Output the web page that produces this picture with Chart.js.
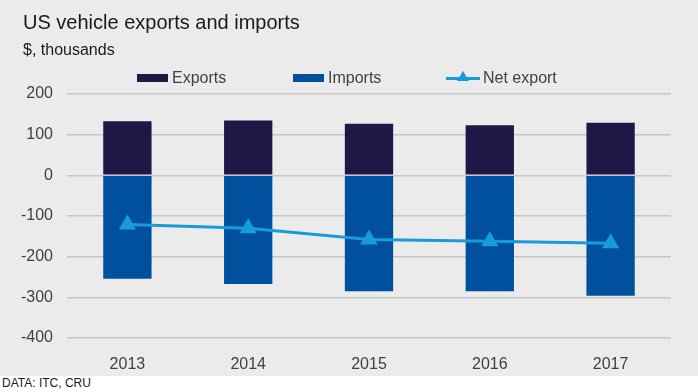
<!DOCTYPE html>
<html>
<head>
<meta charset="utf-8">
<script src="https://cdn.jsdelivr.net/npm/chart.js@4"></script>
<style>
  body { margin: 0; background: #fff; font-family: "Liberation Sans", Arial, sans-serif; }
  #wrap { position: relative; width: 698px; height: 376px; background: #ebebeb; }
  #chart { position: absolute; left: 0; top: 0; }
  .txt { position: absolute; white-space: nowrap; }
  #title { left: 23px; top: 11px; font-size: 20px; color: #1a1a1a; }
  #sub { left: 23px; top: 41px; font-size: 16px; color: #1a1a1a; }
  .leg { position: absolute; top: 69px; font-size: 16px; color: #404040; line-height: 18px; }
  .box { position: absolute; width: 31px; height: 8px; top: 5px; }
  #src { position: absolute; left: 2px; top: 376px; font-size: 12px; color: #1a1a1a; }
</style>
</head>
<body>
<div id="wrap">
  <canvas id="chart" width="698" height="376"></canvas>
  <div id="title" class="txt">US vehicle exports and imports</div>
  <div id="sub" class="txt">$, thousands</div>
  <div class="leg" style="left:137px"><span class="box" style="left:0;background:#201747"></span><span style="margin-left:35px">Exports</span></div>
  <div class="leg" style="left:293px"><span class="box" style="left:0;background:#00509e"></span><span style="margin-left:35px">Imports</span></div>
  <div class="leg" style="left:446px">
    <span style="position:absolute;left:0;top:8px;width:34px;height:3px;background:#189bdb"></span>
    <span style="position:absolute;left:11px;top:2px;width:0;height:0;border-left:6px solid transparent;border-right:6px solid transparent;border-bottom:10px solid #189bdb"></span>
    <span style="margin-left:37px">Net export</span>
  </div>
</div>
<div id="src">DATA: ITC, CRU</div>
<script>
const years = ["2013", "2014", "2015", "2016", "2017"];
const exportsData = [133, 135, 127, 123, 129];
const importsData = [-254, -267, -285, -285, -296];
const netExport = [-121, -130, -158, -162, -167];

new Chart(document.getElementById("chart"), {
  data: {
    labels: years,
    datasets: [
      {
        type: "line",
        label: "Net export",
        data: netExport,
        borderColor: "#189bdb",
        backgroundColor: "#189bdb",
        borderWidth: 3,
        pointStyle: "triangle",
        pointRadius: 7,
        pointHoverRadius: 7,
        tension: 0,
        order: 0
      },
      {
        type: "bar",
        label: "Exports",
        data: exportsData,
        backgroundColor: "#201747",
        stack: "s",
        barPercentage: 0.4,
        categoryPercentage: 1,
        order: 1
      },
      {
        type: "bar",
        label: "Imports",
        data: importsData,
        backgroundColor: "#00509e",
        stack: "s",
        barPercentage: 0.4,
        categoryPercentage: 1,
        order: 1
      }
    ]
  },
  options: {
    responsive: false,
    animation: false,
    layout: { padding: { top: 94, right: 27, left: 0, bottom: 0 } },
    plugins: { legend: { display: false }, tooltip: { enabled: false } },
    scales: {
      x: {
        stacked: true,
        grid: { display: false },
        border: { display: false },
        ticks: { color: "#404040", font: { family: "Liberation Sans", size: 16 }, padding: 9 },
        afterFit: s => { s.height = 38; }
      },
      y: {
        stacked: true,
        min: -400,
        max: 200,
        ticks: { stepSize: 100, color: "#404040", font: { family: "Liberation Sans", size: 16 }, padding: 14 },
        grid: { color: "#c6c6c6", lineWidth: 1.5, drawTicks: false },
        border: { display: false },
        afterFit: s => { s.width = 67; }
      }
    }
  }
});
</script>
</body>
</html>
